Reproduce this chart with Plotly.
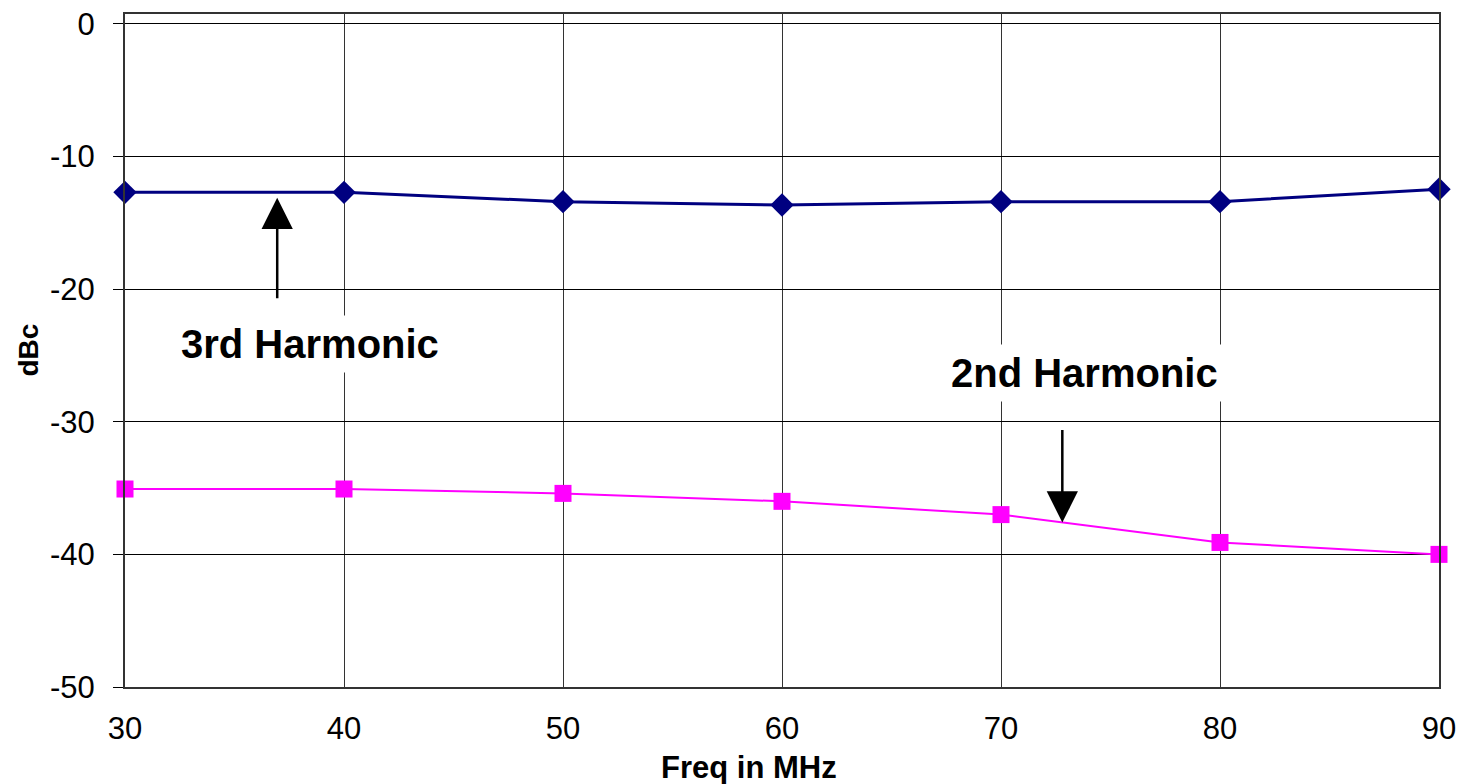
import plotly.graph_objects as go

freq = [30, 40, 50, 60, 70, 80, 90]
third_harmonic = [-12.7, -12.7, -13.4, -13.65, -13.4, -13.4, -12.47]
second_harmonic = [-35.07, -35.07, -35.4, -36.0, -37.0, -39.1, -40.0]
y_ticks = [0, -10, -20, -30, -40, -50]
x_ticks = [30, 40, 50, 60, 70, 80, 90]

FONT = "Liberation Sans, Arial, sans-serif"

fig = go.Figure()
fig.add_trace(go.Scatter(
    x=freq, y=third_harmonic, mode="lines+markers", name="3rd Harmonic",
    line=dict(color="#000080", width=3),
    marker=dict(symbol="diamond", size=18, color="#000080"),
    cliponaxis=False,
))
fig.add_trace(go.Scatter(
    x=freq, y=second_harmonic, mode="lines+markers", name="2nd Harmonic",
    line=dict(color="#FF00FF", width=2),
    marker=dict(symbol="square", size=17, color="#FF00FF"),
    cliponaxis=False,
))

# text labels
fig.add_annotation(x=38.45, y=-24.1, xref="x", yref="y", text="<b>3rd Harmonic</b>",
                   showarrow=False, font=dict(family=FONT, size=40, color="black"),
                   bgcolor="white", borderpad=6)
fig.add_annotation(x=73.8, y=-26.3, xref="x", yref="y", text="<b>2nd Harmonic</b>",
                   showarrow=False, font=dict(family=FONT, size=40, color="black"),
                   bgcolor="white", borderpad=6)

# arrows
fig.add_annotation(x=36.95, y=-13.1, ax=36.95, ay=-20.8, xref="x", yref="y",
                   axref="x", ayref="y", text="", showarrow=True,
                   arrowhead=2, arrowsize=2.5, arrowwidth=2.5, arrowcolor="black")
fig.add_annotation(x=72.8, y=-37.6, ax=72.8, ay=-30.5, xref="x", yref="y",
                   axref="x", ayref="y", text="", showarrow=True,
                   arrowhead=2, arrowsize=2.5, arrowwidth=2.5, arrowcolor="black")

# axis titles
fig.add_annotation(x=0.475, y=0, xref="paper", yref="paper", yshift=-80,
                   text="<b>Freq in MHz</b>", showarrow=False,
                   xanchor="center", yanchor="middle", borderpad=0,
                   font=dict(family=FONT, size=31, color="black"))
fig.add_annotation(x=0, y=0.5, xref="paper", yref="paper", xshift=-97,
                   text="<b>dBc</b>", showarrow=False, textangle=-90,
                   xanchor="center", yanchor="middle",
                   font=dict(family=FONT, size=28, color="black"))

fig.update_layout(
    width=1478, height=784,
    margin=dict(l=125, r=39, t=14, b=97),
    plot_bgcolor="white", paper_bgcolor="white",
    showlegend=False,
    font=dict(family=FONT, color="black"),
)
fig.update_xaxes(
    range=[30, 90], tickvals=x_ticks, ticktext=[str(v) for v in x_ticks],
    showgrid=True, gridcolor="#333333", gridwidth=1,
    showline=True, linecolor="#333333", linewidth=2, mirror=True,
    ticks="", tickfont=dict(size=31, family=FONT), ticklabelstandoff=13,
    zeroline=False, automargin=False,
)
fig.update_yaxes(
    range=[-50, 0.75], tickvals=y_ticks, ticktext=[str(v) for v in y_ticks],
    showgrid=True, gridcolor="black", gridwidth=1,
    showline=True, linecolor="#333333", linewidth=2, mirror=True,
    ticks="outside", ticklen=10, tickcolor="black",
    tickfont=dict(size=31, family=FONT), ticklabelstandoff=12,
    zeroline=False, automargin=False,
)

fig.write_html("out.html")
